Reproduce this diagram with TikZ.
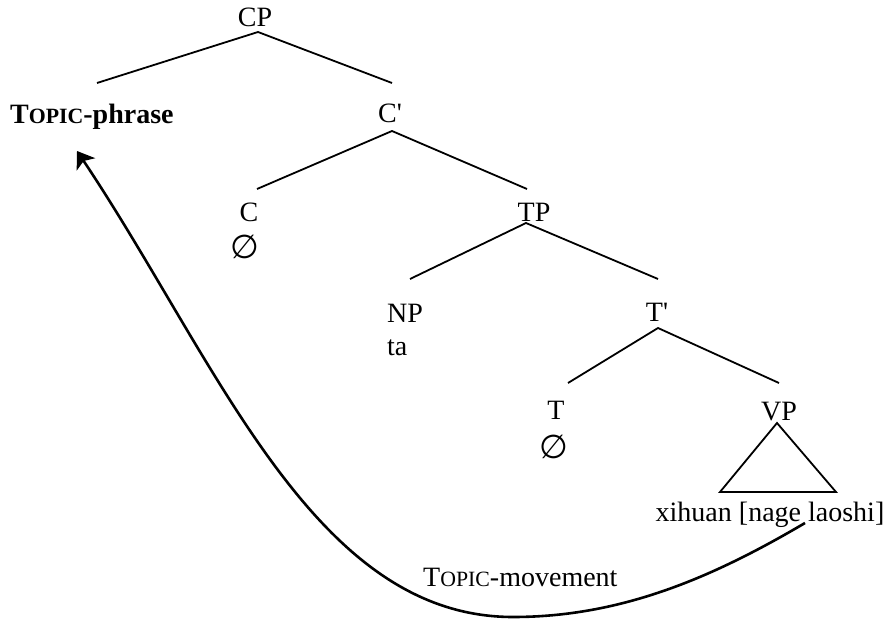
\documentclass[tikz,border=0pt]{standalone}
\usepackage{fontspec}
\setmainfont{Liberation Serif}
\newfontfamily\symfont{DejaVu Sans}
\usetikzlibrary{arrows.meta}
% fake small capitals, as a word processor sets them
\newcommand\fakesc[1]{{\fontsize{21.8pt}{26pt}\selectfont #1}}
\begin{document}
\begin{tikzpicture}[x=1pt,y=-1pt,
  lab/.style={inner sep=0pt, anchor=base, font=\fontsize{28pt}{33pt}\selectfont},
  labw/.style={lab, anchor=base west},
  nul/.style={inner sep=0pt, anchor=center, font=\fontsize{33pt}{38pt}\symfont},
  branch/.style={line width=1.8pt},
  move/.style={line width=2.6pt, -{Stealth[length=16pt,width=22pt,inset=4pt]}}]
\useasboundingbox (0,0) rectangle (891,620);

% labels of the tree
\node[lab]  (CP)    at (255,27)  {CP};
\node[labw] (TOPIC) at (10,124)  {\bfseries T\fakesc{OPIC}-phrase};
\node[lab]  (Cbar)  at (390,123) {C\textquotesingle};
\node[lab]  (C)     at (249,222) {C};
\node[nul]  (Cnull) at (245,247) {∅};
\node[lab]  (TP)    at (534,222) {TP};
\node[labw] (NP)    at (387,322) {NP};
\node[labw] (ta)    at (387,355) {ta};
\node[lab]  (Tbar)  at (657,321) {T\textquotesingle};
\node[lab]  (T)     at (556,419) {T};
\node[nul]  (Tnull) at (554,447) {∅};
\node[lab]  (VP)    at (779,420) {VP};
\node[lab]  (VPtxt) at (770,521) {xihuan [nage laoshi]};
\node[labw] (mvlab) at (423,586) {T\fakesc{OPIC}-movement};

% branch end points
\coordinate (CPf)   at (258,32);
\coordinate (TOPh)  at (97,83);
\coordinate (Cbarh) at (392,83);
\coordinate (Cbarf) at (392,131);
\coordinate (Ch)    at (257,189);
\coordinate (TPh)   at (527,189);
\coordinate (TPf)   at (526,223);
\coordinate (NPh)   at (410,279);
\coordinate (Tbarh) at (658,279);
\coordinate (Tbarf) at (658,328);
\coordinate (Th)    at (568,383);
\coordinate (VPh)   at (779,383);

\draw[branch] (TOPh) -- (CPf) -- (Cbarh);
\draw[branch] (Ch) -- (Cbarf) -- (TPh);
\draw[branch] (NPh) -- (TPf) -- (Tbarh);
\draw[branch] (Th) -- (Tbarf) -- (VPh);

% triangle over the VP string
\coordinate (triA) at (777,423);
\coordinate (triL) at (720,492);
\coordinate (triR) at (836,492);
\draw[branch, line join=miter] (triA) -- (triL) -- (triR) -- cycle;

% movement arrow
\coordinate (mvS) at (805,523);
\coordinate (mvB) at (513,617);
\coordinate (mvT) at (77,151);
\draw[move] (mvS) .. controls (715,576) and (623,617) .. (mvB)
                  .. controls (313,617) and (218,362) .. (mvT);
\end{tikzpicture}
\end{document}
